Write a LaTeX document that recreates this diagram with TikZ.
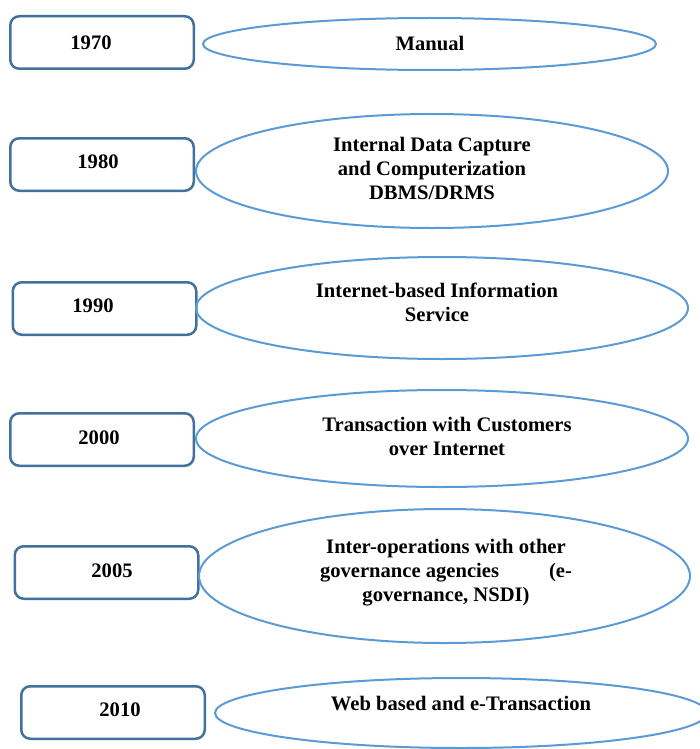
\documentclass[tikz,border=0pt]{standalone}
\usepackage{fontspec}
\setmainfont{Liberation Serif}
\usetikzlibrary{shapes.geometric}
\definecolor{boxblue}{HTML}{41719C}
\definecolor{ellblue}{HTML}{5B9BD5}
\tikzset{
  yearbox/.style={draw=boxblue, line width=2.5pt, rounded corners=9pt, fill=white,
    minimum width=183.5pt, minimum height=52.5pt, inner sep=0pt},
  era/.style={draw=ellblue, line width=2pt, ellipse, inner sep=0pt},
  lbl/.style={font=\bfseries\fontsize{20.6}{24}\selectfont, align=center, inner sep=0pt},
}
\begin{document}
\begin{tikzpicture}[x=1pt,y=-1pt]
\useasboundingbox (0,0) rectangle (700,749);
% year boxes
\node[yearbox] (b1) at (102,42.5) {};
\node[yearbox] (b2) at (102,164.5) {};
\node[yearbox] (b3) at (104.5,308.5) {};
\node[yearbox] (b4) at (102,439.5) {};
\node[yearbox] (b5) at (106.5,572.5) {};
\node[yearbox] (b6) at (113,712.5) {};
\node[lbl] (y1) at (91,43) {1970};
\node[lbl] (y2) at (98,162) {1980};
\node[lbl] (y3) at (93,306) {1990};
\node[lbl] (y4) at (99,438) {2000};
\node[lbl] (y5) at (112,571) {2005};
\node[lbl] (y6) at (120,710) {2010};
% ellipses
\node[era, minimum width=453pt, minimum height=52pt] (e1) at (429.5,44) {};
\node[era, minimum width=472pt, minimum height=114pt] (e2) at (432,171) {};
\node[era, minimum width=492pt, minimum height=102pt] (e3) at (442,308) {};
\node[era, minimum width=492pt, minimum height=97pt] (e4) at (442,438.5) {};
\node[era, minimum width=491pt, minimum height=134pt] (e5) at (444.5,576) {};
\node[era, minimum width=492pt, minimum height=70pt] (e6) at (461,713) {};
% labels
\node[lbl] (t1) at (430,43) {Manual};
\node[lbl] (t2) at (432,168.5) {Internal Data Capture\\and Computerization\\DBMS/DRMS};
\node[lbl] (t3) at (437,302) {Internet-based Information\\Service};
\node[lbl] (t4) at (447,436) {Transaction with Customers\\over Internet};
\node[lbl] (t5) at (446,573) {Inter-operations with other\\\makebox[252pt][s]{governance agencies\hfill(e-}\\governance, NSDI)};
\node[lbl] (t6) at (461,704) {Web based and e-Transaction};
\end{tikzpicture}
\end{document}
